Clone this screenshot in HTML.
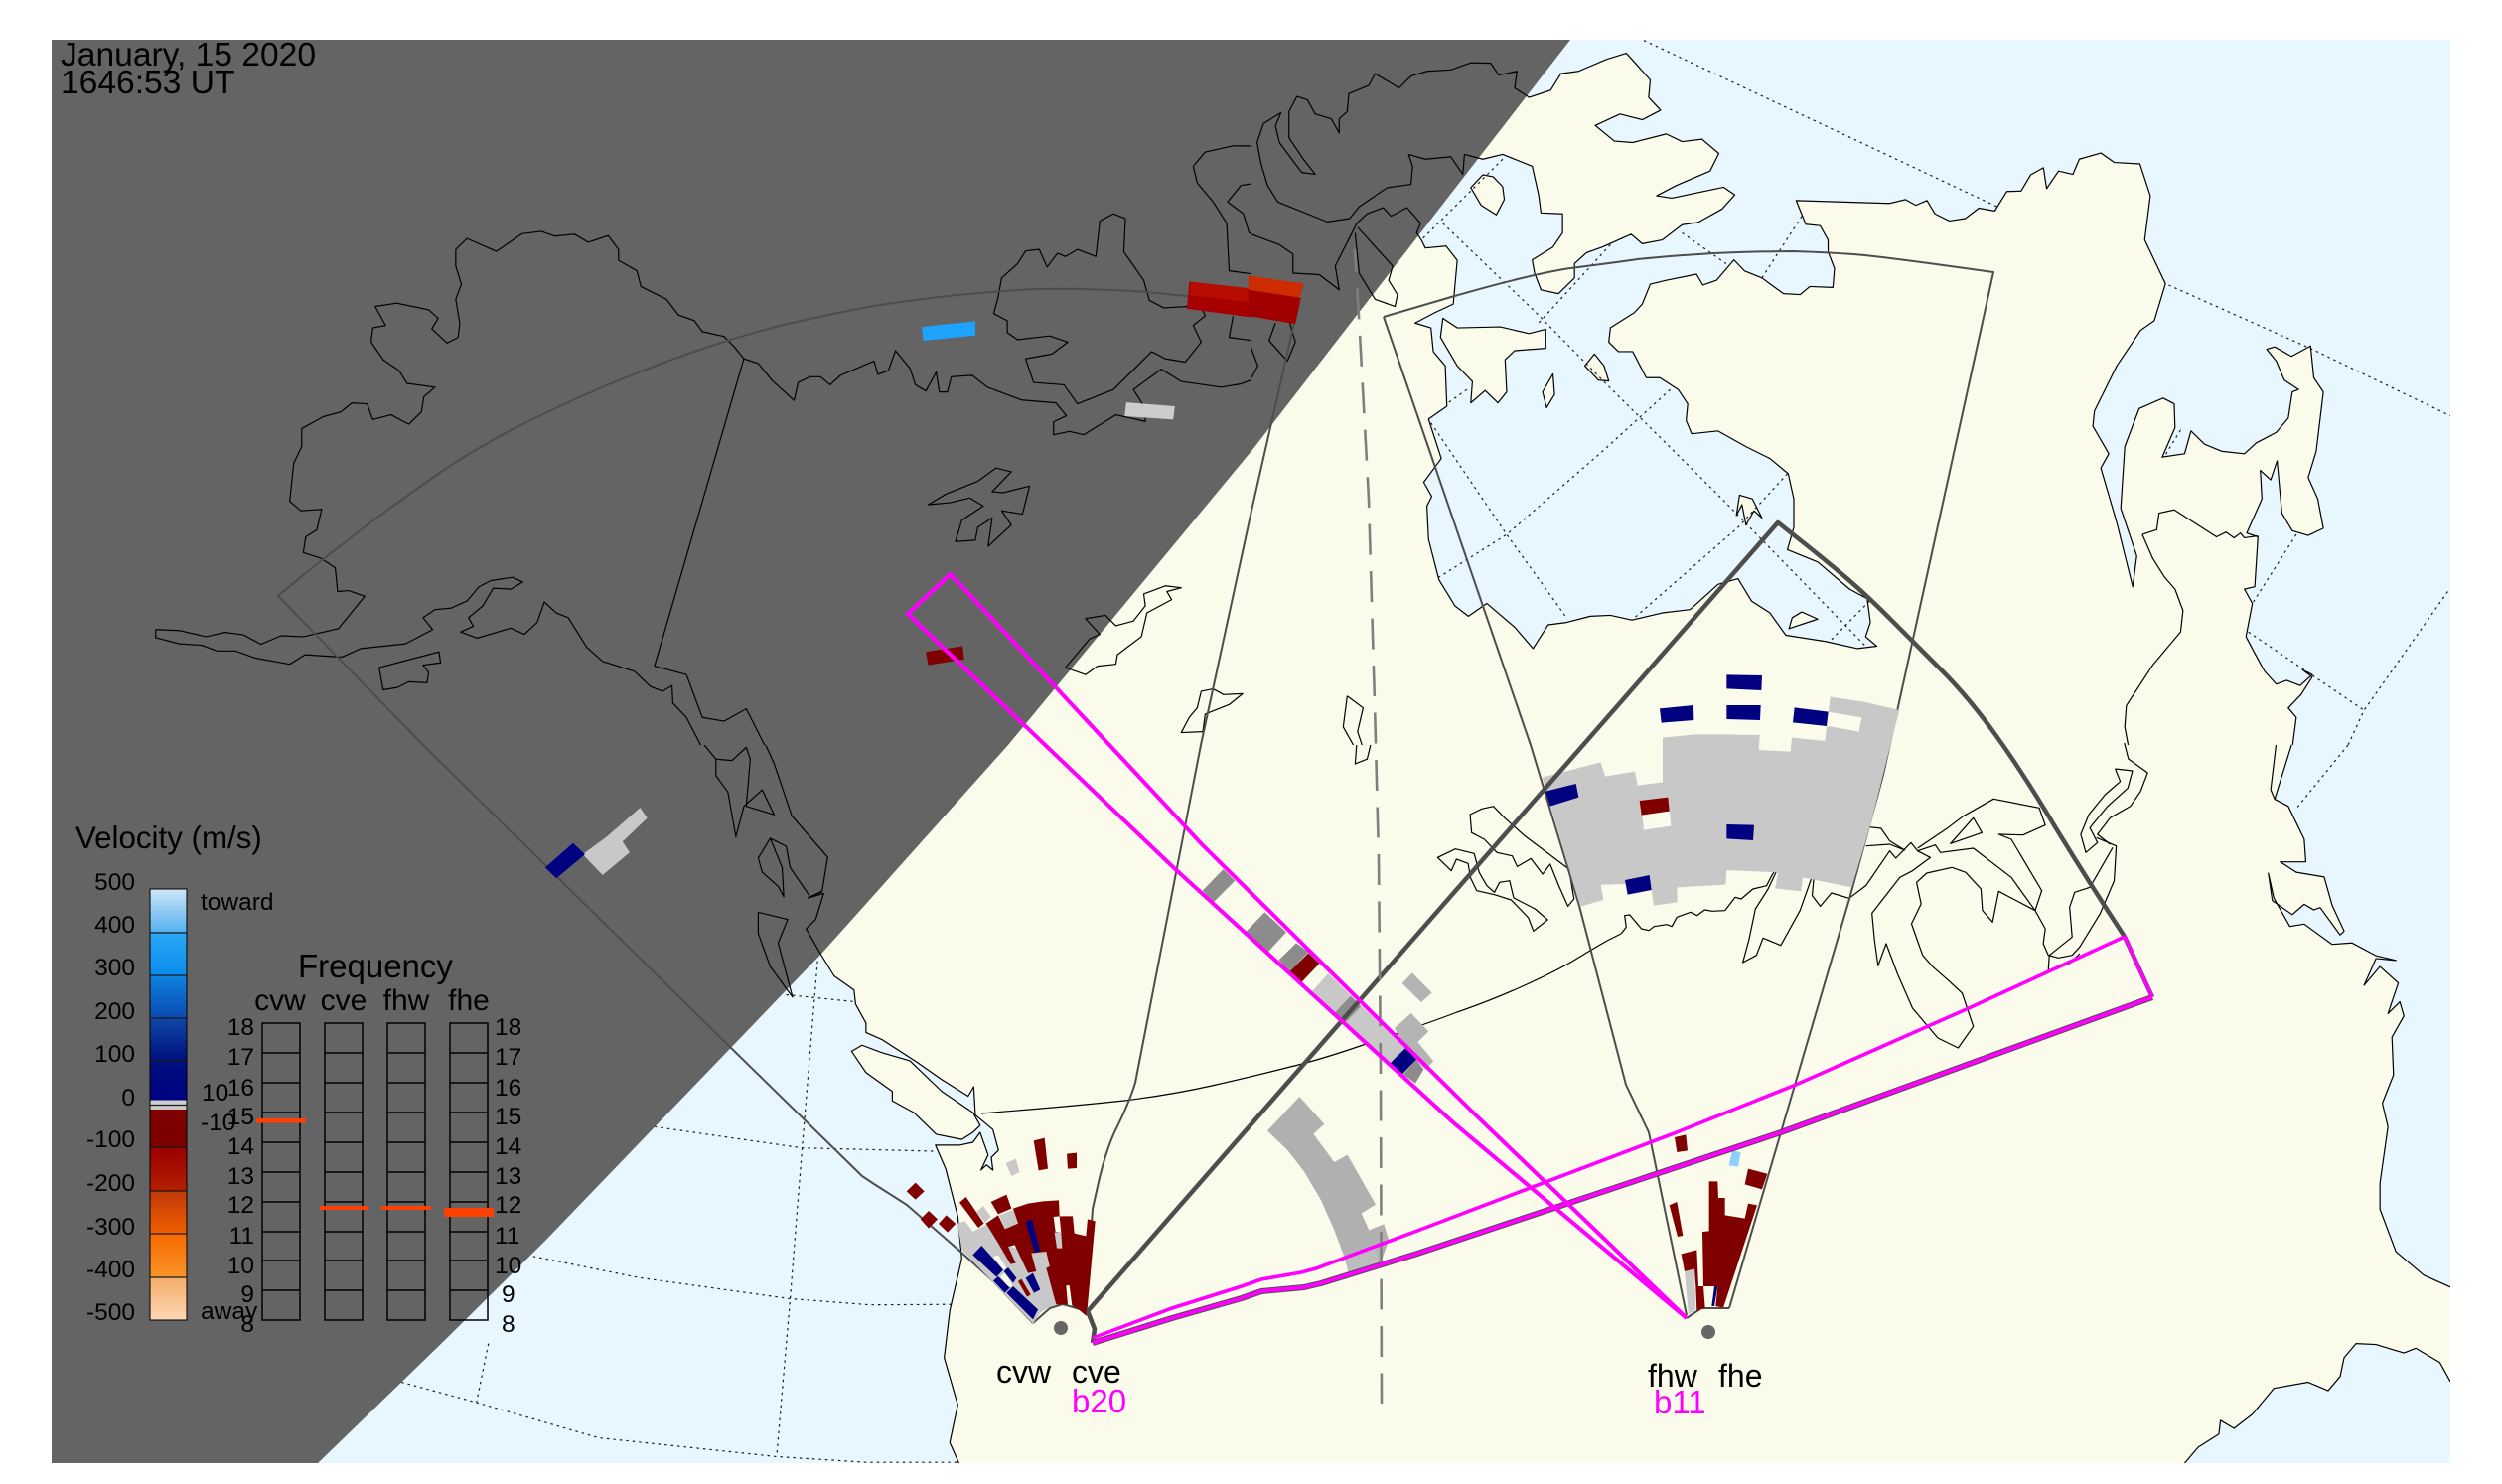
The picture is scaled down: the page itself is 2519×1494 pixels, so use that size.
<!DOCTYPE html>
<html><head><meta charset="utf-8"><title>Velocity map</title>
<style>
html,body{margin:0;padding:0;background:#fff}
svg{display:block}
path{vector-effect:non-scaling-stroke}
text{font-family:"Liberation Sans",sans-serif;fill:#000}
.cst{fill:none;stroke:#000;stroke-width:1.2;stroke-linejoin:round}
.grid path{fill:none;stroke:#1a1a1a;stroke-width:1.2;stroke-dasharray:2.5 4}
.lb{font-size:24.5px}
.fq{font-size:24.5px}
</style></head><body>
<svg xmlns="http://www.w3.org/2000/svg" width="2519" height="1494" viewBox="0 0 2519 1494">
<defs>
<clipPath id="c"><rect x="0" y="0" width="1568" height="1568"/></clipPath>
<linearGradient id="vb" x1="0" y1="895" x2="0" y2="1329" gradientUnits="userSpaceOnUse">
<stop offset="0" stop-color="#cfe6f8"/><stop offset=".097" stop-color="#58b2ee"/>
<stop offset=".102" stop-color="#2aa8f5"/><stop offset=".2" stop-color="#0a8cec"/>
<stop offset=".2" stop-color="#0f84e0"/><stop offset=".299" stop-color="#0a4ab0"/>
<stop offset=".299" stop-color="#1048a8"/><stop offset=".398" stop-color="#00107f"/>
<stop offset=".49" stop-color="#000080"/><stop offset=".49" stop-color="#d0d0d0"/>
<stop offset=".511" stop-color="#c8c8c8"/><stop offset=".511" stop-color="#800000"/>
<stop offset=".601" stop-color="#7a0000"/><stop offset=".601" stop-color="#9a0000"/>
<stop offset=".7" stop-color="#b42000"/><stop offset=".7" stop-color="#c03808"/>
<stop offset=".8" stop-color="#f06000"/><stop offset=".8" stop-color="#f86a00"/>
<stop offset=".898" stop-color="#f89428"/><stop offset=".902" stop-color="#f4ac68"/>
<stop offset="1" stop-color="#fdd8b4"/>
</linearGradient>
<path id="l2a" d="M213,505 L218,522 244,518 258,548 253,640 230,658 205,680 225,690 228,740 243,770 245,855 222,882 238,965 216,1015 226,1045 220,1065 222,1135 235,1220 255,1275 272,1297 295,1270 330,1320 353,1365 372,1315 395,1310 425,1297 450,1295 477,1305 515,1290 550,1283 585,1230 610,1218 627,1265 650,1290 670,1337 720,1350 760,1365 784,1360 770,1340 776,1310 772,1260 750,1240 710,1183 672,1157 680,1110 680,1050 673,997 650,965 620,940 585,907 552,913 545,885 547,850 535,820 512,795 495,795 478,740 460,740 448,720 450,690 480,658 490,640 500,598 520,590 558,577 566,600 583,590 605,547 618,570 640,585 667,618 688,620 700,603 729,605 731,565 723,530 723,505 713,475 695,472 683,422 800,428 820,420 833,432 847,422 857,450 875,465 895,460 912,438 932,444 947,403 965,402 977,368 993,353 997,397 1012,360 1030,367 1038,335 1065,322 1082,342 1114,345 1127,412 1120,505 1146,597 1132,675 1115,695 1085,770 1057,865 1055,897 1075,955 1065,985 1085,1100 1105,1235 1110,1170 1090,1070 1095,940 1113,860 1143,838 1157,850 1158,900 1142,962 1170,955 1178,907 1195,935 1217,950 1245,955 1260,932 1285,910 1300,880 1305,825 1313,820 1295,800 1285,760 1273,735 1283,730 1304,750 1328,728 1332,795 1344,825 1335,950 1325,1005 1337,1050 1344,1112 1325,1127 1305,1117 1292,1080 1286,970 1278,1010 1265,990 1267,1050 1248,1122 1262,1130 1258,1235 1245,1240 1255,1270 1247,1340 1258,1375 1270,1412 1285,1440 1298,1432 1315,1443 1330,1420 1318,1410 1330,1425 1316,1462 1300,1490 1310,1510 1305,1575 -10,1575 -10,300"/>
<path id="l2b" d="M348,205 L375,190 388,155 410,150 445,125 470,112 500,168 498,205 513,232 490,252 462,240 431,264 455,297 478,300 520,282 540,298 565,293 586,323 575,360 533,390 508,412 527,417 592,394 606,410 590,440 560,468 540,473 515,505 490,513 476,493 440,520 420,532 405,555 405,585 385,618 363,610 355,575 352,547 378,520 390,490 390,450 363,448 360,410 352,350 315,325 290,335 267,325 265,367 250,330 218,335 197,325 202,350 200,388 170,395 135,435 123,460 95,467 70,450 33,425 20,390 12,345 7,300 15,260 37,237 30,265 35,300 63,363 80,367 65,335 47,290 47,235 57,203 70,210 80,240 100,250 110,280 110,250 120,235 122,197 147,180 155,155 165,165 185,185 200,160 220,150 250,147 275,132 300,133 310,158 333,150 330,185 348,205Z
M240,670 L258,690 312,688 348,702 369,693 369,733 330,738 318,757 320,825 309,848 293,822 275,848 277,803 258,770 237,710Z
M290,368 L275,395 288,432 307,452 317,420 315,393 303,372Z
M430,745 L418,770 435,800 448,802 442,770Z
M378,787 L365,825 370,858 380,830Z
M612,1042 L608,1085 615,1062 620,1105 630,1075 640,1090 628,1050Z
M690,1288 L678,1300 674,1323 710,1303Z"/>
<path id="l4" d="M1305,-5 L1283,115 1300,130 1320,200 1322,248 1290,248 1310,270 1345,280 1355,340 1370,395 1365,403 1340,345 1332,350 1320,338 1305,360 1280,330 1275,272 1282,325 1302,385 1320,380 1355,423 1380,420 1410,447 1435,457 1410,453 1395,510 1415,470 1438,505 1430,545 1425,570 1440,545 1445,575 1430,620 1432,700 1418,760 1425,810 1415,930 1415,985 1435,1075 1470,1125 1503,1150 1515,1155 1515,1352 1503,1350 1490,1310 1460,1280 1445,1290 1410,1272 1385,1270 1370,1300 1365,1340 1350,1370 1325,1352 1282,1365 1255,1420 1232,1450 1215,1433 1213,1462 1187,1490 1170,1524 1165,1535 -10,1535 -10,-5"/>
<path id="l3" d="M958,-5 L970,40 992,150 1037,238 1030,310 1012,325 1032,315 1022,370 1010,390 1027,440 1045,490 1070,520 1072,550 1085,590 1085,610 1105,625 1148,672 1180,710 1213,745 1220,725 1222,785 1244,816 1251,860 1242,875 1244,902 1236,891 1229,902 1238,870 1228,822 1219,843 1203,849 1172,849 1185,900 1200,1000 1205,1090 1190,1200 1183,1300 1200,1400 1190,1480 1203,1530 1600,1530 1600,-5"/>
<path id="l3b" d="M1067,650 L1080,637 1105,653 1140,670 1180,735 1219,780 1228,807 1219,822 1205,837 1173,826 1145,780 1118,755 1118,735 1085,695Z"/>
</defs>
<rect x="0" y="0" width="2519" height="1494" fill="#fff"/>
<rect x="52" y="40" width="2415" height="1433" fill="#e8f6ff"/>
<!-- land fills -->
<g fill="#fafbeb" stroke="none">
<g transform="scale(.80357,.47832)" clip-path="url(#c)"><rect x="1000" y="900" width="570" height="670"/></g>
<g transform="translate(1260,0) scale(.80293,.47832)" clip-path="url(#c)"><use href="#l2a"/><use href="#l2b"/></g>
<g transform="translate(0,750) scale(.80357,.47449)" clip-path="url(#c)"><use href="#l3"/><use href="#l3b"/></g>
<g transform="translate(1260,750) scale(.80293,.47449)" clip-path="url(#c)"><use href="#l4"/></g>
</g>
<!-- grid -->
<g class="grid">
<g transform="translate(1260,0) scale(.80293,.47832)" clip-path="url(#c)">
<path d="M492,85 L935,435"/><path d="M1150,600 L1330,735 1503,875"/><path d="M1310,1125 L1255,1270"/><path d="M1250,1330 L1395,1495"/><path d="M1500,1245 L1395,1495 1375,1568"/>
<path d="M315,335 L213,505"/><path d="M240,470 L355,655 440,800 590,1050 770,1360"/><path d="M450,515 L360,680"/><path d="M540,490 L595,555"/><path d="M690,455 L640,585"/><path d="M525,820 L440,950 320,1125 235,1215"/><path d="M225,890 L320,1125 395,1300"/><path d="M672,997 L610,1110 477,1305"/><path d="M775,1265 L725,1350"/><path d="M270,820 L245,850"/><path d="M1165,905 L1145,960"/>
</g>
<g transform="translate(1260,750) scale(.80293,.47449)" clip-path="url(#c)"><path d="M1375,0 L1310,135"/></g>
<g transform="translate(0,750) scale(.80357,.47449)" clip-path="url(#c)">
<path d="M985,530 L1072,545"/><path d="M1025,445 L1005,855 990,1175 973,1510"/><path d="M820,810 L1005,855 1170,862"/><path d="M668,1085 L800,1130 990,1175 1090,1188 1195,1187"/><path d="M612,1270 L597,1395"/><path d="M503,1352 L597,1395 750,1470 973,1510 1085,1522 1200,1522"/>
</g>
</g>
<!-- terminator -->
<path d="M52,40 L1581,40 1260,454 1015,750 828,959 550,1248 447,1350 320,1473 52,1473Z" fill="#646464"/>
<!-- coast strokes -->
<g class="cst">
<g transform="scale(.80357,.47832)" clip-path="url(#c)">
<path d="M195,1325 L225,1327 258,1340 282,1331 305,1336 327,1356 352,1338 380,1340 424,1323 440,1290 457,1255 437,1243 423,1245 420,1195 402,1175 380,1163 383,1130 397,1115 403,1072 377,1075 363,1055 368,975 378,940 378,902 405,877 427,867 441,848 460,850 467,883 490,873 512,893 528,867 531,835 545,815 510,807 500,780 480,757 465,720 467,690 483,685 470,645 497,638 537,652 549,670 541,692 560,722 574,710 576,680 571,630 578,598 571,560 571,525 585,502 622,529 654,492 678,487 695,497 720,493 737,510 762,496 775,525 775,548 798,570 803,603 835,630 850,663 870,675 880,698 907,708 920,730 932,755 950,765 967,800 995,843 1000,805 1015,793 1028,793 1040,810 1053,790 1095,760 1100,788 1113,780 1122,738 1140,775 1147,810 1160,823 1173,783 1177,825 1187,825 1192,793 1218,790 1237,815 1280,842 1323,848 1336,875 1320,888 1320,915 1340,908 1358,915 1398,873 1435,887 1435,860 1420,820 1455,777 1480,803 1530,815 1555,808 1575,795"/>
<path d="M195,1325 L195,1342 225,1355 253,1358 272,1370 295,1370 320,1385 363,1398 382,1378 428,1383 452,1365 508,1355 542,1325 530,1300 545,1283 565,1280 585,1265 600,1235 615,1222 642,1215 655,1225 640,1240 618,1238 605,1275 587,1300 593,1318 577,1330 598,1343 640,1322 657,1335 673,1310 682,1267 697,1290 712,1300 735,1362 755,1392 795,1413 815,1445 830,1455 842,1443 843,1480 860,1510 880,1575"/>
<path d="M932,755 L820,1402 860,1420 880,1510 907,1518 935,1492 960,1575"/>
<path d="M1285,755 L1295,805 1333,810 1350,850 1395,820 1443,740 1460,755 1485,762 1505,720 1495,685 1510,665 1505,645 1490,645 1458,648 1440,632 1433,590 1408,530 1410,460 1395,450 1378,465 1373,540 1350,525 1335,540 1325,533 1312,562 1302,525 1285,528 1275,555 1255,585 1250,630 1245,660 1262,675 1262,700 1275,715 1315,707 1338,720 1318,745Z"/>
<path d="M1575,307 L1545,307 1510,320 1495,350 1500,385 1520,425 1537,470 1540,570 1575,578"/>
<path d="M1575,385 L1555,390 1538,425 1558,450 1565,490 1575,492"/>
<path d="M1545,665 L1540,710 1575,718"/>
<path d="M475,1405 L550,1372 552,1395 530,1400 537,1415 535,1437 512,1435 498,1447 480,1452Z"/>
<path d="M1248,985 L1267,993 1243,1035 1257,1037 1290,1023 1281,1082 1255,1075 1267,1105 1238,1150 1243,1090 1225,1110 1222,1137 1197,1140 1205,1095 1232,1065 1215,1048 1190,1058 1163,1062 1185,1040 1225,1013Z"/>
<path d="M1360,1302 L1385,1295 1398,1317 1420,1307 1435,1275 1433,1250 1460,1233 1480,1237 1462,1245 1468,1262 1437,1290 1430,1340 1400,1378 1398,1398 1375,1402 1360,1420 1335,1405 1365,1345 1378,1335Z"/>
<path d="M1480,1542 L1490,1510 1500,1490 1505,1455 1520,1450 1533,1462 1557,1460 1540,1483 1510,1503 1507,1540Z"/>
</g>
<g transform="translate(1260,0) scale(.80293,.47832)" clip-path="url(#c)">
<use href="#l2a"/><use href="#l2b"/>
<path d="M-5,490 L35,515 52,535 52,575 85,578 110,610 105,560 132,470 145,450 165,437 175,455 195,437 212,470 207,490 213,505"/>
<path d="M133,478 L177,560 172,590 183,620 180,645 155,630 135,575 130,490"/>
<path d="M48,680 L55,720 45,760 22,717 30,680"/>
<path d="M-5,712 L8,770 0,795"/>
<path d="M1117,1125 L1135,1115 1138,1080 1157,1073 1210,1130 1222,1120 1232,1132 1240,1122 1245,1132 1262,1128"/>
<path d="M1117,1125 L1130,1175 1145,1215 1158,1240 1168,1285 1165,1330 1130,1400 1097,1485 1095,1530 1100,1575"/>
<path d="M120,1465 L140,1490 133,1540 140,1575"/><path d="M120,1465 L115,1530 130,1575"/>
</g>
<g transform="translate(0,750) scale(.80357,.47449)" clip-path="url(#c)">
<use href="#l3"/><use href="#l3b"/>
<path d="M880,-5 L897,30 897,65 912,100 922,195 932,130 955,95 970,148 935,130 940,30 935,5 917,33 897,30"/>
<path d="M965,198 L985,215 990,260 1015,322 1030,312"/>
<path d="M965,198 L950,240 955,270 975,300 982,322 980,260Z"/>
<path d="M950,355 L987,370 975,420 993,535 965,470 950,400Z"/>
</g>
<g transform="translate(1260,750) scale(.80293,.47449)" clip-path="url(#c)">
<use href="#l4"/>
<path d="M1285,-5 L1278,95 1283,115"/>
<path d="M150,-5 L145,30 130,40 132,-5"/>
</g>
<!-- 49th parallel -->
<path d="M988,1121 L1036,1117 Q1085,1113 1132,1108 Q1180,1102 1220,1093 Q1260,1084 1295,1075 Q1330,1067 1381,1049 Q1433,1032 1467,1019 Q1502,1007 1535,992 Q1568,977 1586,966 Q1604,955 1618,947 L1632,940"/>
<!-- great lakes -->
<g transform="translate(1400,780) scale(.5102,.33333)">
<path d="M455,480 L465,460 462,425 472,423 495,465 510,470 520,458 545,452 555,458 565,430 592,415 605,425 620,408 635,412 660,410 680,370 692,375 715,345 742,335 752,305 762,280"/>
<path d="M352,285 L300,225 265,185 225,130 203,95 180,103 157,120 160,175 185,195 210,235 240,245 250,277 277,253 300,300 315,270 332,335 350,397 362,375 352,285"/>
<path d="M93,250 L128,224 165,238 175,295 190,335 205,355 215,325 235,320 243,372 285,405 310,438 282,472 272,432 238,378 205,362 170,350 158,312 153,268 130,255 120,290Z"/>
<path d="M762,290 L745,345 720,405 707,500 695,567 722,545 735,493 770,515 808,410 830,315"/>
<path d="M835,315 L832,365 848,397 870,357 905,373 938,335 985,230 997,252 1010,232 1027,205 1040,230"/>
<path d="M938,215 L985,210 1015,228"/><path d="M945,158 L968,162 985,200 1015,228"/>
<path d="M1272,410 L1225,310 1150,222 1085,235 1075,212 1040,230 1065,250 1030,290 1005,310 950,418 955,500 962,577 978,510 1000,600 1030,705 1080,795 1120,825 1150,760 1128,660 1100,620 1070,580 1050,545 1028,450 1047,390 1038,325 1058,297 1108,280 1135,295 1165,345 1168,410 1188,445 1200,352 1272,410 1292,465 1288,510 1298,545 1318,553 1345,545 1360,520 1400,420 1428,320 1432,215 1393,190"/>
<path d="M1040,222 L1100,160 1130,125 1190,73 1280,100 1292,152 1248,182 1200,180 1225,195 1285,350 1272,410"/>
<path d="M1105,208 L1150,130 1167,175Z"/>
<path d="M1298,590 L1300,545 1345,490 1340,400 1350,355 1380,340 1425,220"/>
<path d="M1298,590 L1340,570 1360,540"/>
<path d="M1448,-96 L1456,-48 1494,-6 1480,50 1460,95 1420,130 1395,180 1420,210"/>
<path d="M1430,-18 L1464,-12 1455,40 1415,95 1380,160 1395,205 1372,235 1362,180 1378,120 1410,60 1440,20 1430,-18"/>
</g>
</g>
<!-- FOV outlines -->
<g fill="none" stroke="#4d4d4d" stroke-width="2" stroke-linejoin="round">
<path d="M1040,1332 L1000,1290 967,1260 913,1213 880,1192 868,1184 735,1054 426,750 280,600 L304,580 Q329,560 373,526 Q418,493 450,471 Q482,450 522,429 Q562,409 606,390 Q651,371 693,356 Q735,341 785,328 Q836,316 880,308 Q924,301 964,297 Q1004,293 1044,291 Q1085,290 1141,293 Q1197,297 1300,312"/>
<path d="M1303,325 L1260,514 1209,750 1143,1090 Q1137,1110 1122,1140 Q1113,1160 1106,1190 L1100,1217 1093,1323"/>
<path d="M1040,1332 L1057,1317 1070,1313 1087,1318 1093,1323"/>
<path d="M1393,319 L1461,299 Q1541,276 1581,270 Q1621,265 1649,261 Q1677,258 1725,255 Q1774,253 1806,253 Q1838,254 1866,256 Q1894,258 2007,274 L1896,780 1862,905 1793,1140 1741,1317"/>
<path d="M1393,319 L1541,750 1590,912 1637,1092 1660,1140 1698,1324"/>
<path d="M1698,1327 L1713,1317 1733,1317 1741,1317"/>
</g>
<!-- isolated bins -->
<g transform="scale(.80357,.47832)">
<path d="M1490,593 L1568,610 1568,668 1487,650Z" fill="#a60000"/>
<path d="M1492,593 L1568,607 1568,638 1530,628 1490,622Z" fill="#b80c00"/>
<path d="M1155,688 L1222,676 1222,706 1157,717Z" fill="#1ea4ff"/>
<path d="M1411,847 L1472,855 1470,883 1409,876Z" fill="#cccccc"/>
<path d="M1160,1372 L1206,1360 1208,1388 1163,1400Z" fill="#800000"/>
</g>
<g transform="translate(1260,0) scale(.80293,.47832)">
<path d="M-4,580 L66,597 60,627 -4,610Z" fill="#cc2c00"/>
<path d="M-4,610 L62,627 55,682 -4,665Z" fill="#a00000"/>
</g>
<g transform="translate(0,750) scale(.80357,.47449)">
<path d="M802,133 L811,155 780,205 789,228 755,276 730,232 760,195Z" fill="#c8c8c8"/>
<path d="M718,208 L733,232 697,283 683,260Z" fill="#000080"/>
</g>
<!-- lower gray arc -->
<g transform="translate(1250,1080) scale(.33333)">
<path d="M175,72 L250,155 217,185 280,270 320,248 405,398 362,425 385,475 430,457 445,505 418,580 325,610 310,555 280,475 240,385 190,300 140,235 78,175Z" fill="#b0b0b0"/>
<path d="M315,555 L405,527 418,580 325,610Z" fill="#bdbdbd"/>
</g>
<!-- FH far bins -->
<g transform="translate(1530,660) scale(.33333)">
<path d="M68,368 L245,322 258,365 348,350 356,392 432,382 432,248 530,238 625,238 725,240 722,285 818,290 822,248 922,258 938,125 1040,140 1147,165 1130,230 1060,510 1003,700 855,670 850,712 772,703 780,655 625,648 622,692 475,700 476,745 405,755 398,708 320,690 245,692 253,738 183,758Z" fill="#c8c8c8"/>
<path d="M930,170 L1033,187 1025,230 925,212Z M370,478 L453,470 457,515 375,527Z" fill="#fafbeb"/>
<path d="M362,438 L448,428 452,470 368,482Z" fill="#800000"/>
<g fill="#000080">
<path d="M78,410 L170,387 178,428 92,455Z"/><path d="M625,510 L708,512 705,558 625,553Z"/><path d="M318,678 L392,663 398,708 326,722Z"/>
<path d="M625,58 L732,60 730,105 625,100Z"/><path d="M625,150 L728,150 726,195 625,192Z"/><path d="M423,160 L525,150 526,195 428,203Z"/><path d="M830,157 L932,170 927,213 825,202Z"/>
</g>
</g>
<!-- CV isolated -->
<g transform="translate(880,1120) scale(.33333)">
<path d="M482,85 L515,77 525,170 497,175Z M582,125 L612,122 612,168 585,170Z M125,212 L152,238 125,263 98,238Z M165,297 L192,322 165,350 140,322Z M218,310 L247,336 222,362 195,336Z" fill="#800000"/>
<path d="M398,153 L428,140 440,180 415,192Z" fill="#c8c8c8"/>
</g>
<!-- CV wedge -->
<g transform="translate(960,1190) scale(.33333)">
<path d="M12,125 L35,118 58,150 100,128 175,195 235,215 280,210 310,370 285,380 262,395 240,428 25,205Z M70,90 L90,72 113,105 95,122Z M138,100 L182,83 195,125 155,142Z" fill="#c8c8c8"/>
<path d="M18,62 L38,45 92,125 75,138Z M113,60 L160,38 175,80 135,97Z" fill="#800000"/>
<path d="M98,125 L135,100 155,142 195,125 180,80 225,65 270,58 318,55 320,103 360,103 365,155 400,163 405,112 428,118 402,405 385,390 358,373 350,312 340,313 345,370 310,370 280,260 290,255 280,210 235,215 250,270 225,275 185,190 165,195 188,245 172,248 135,185 120,160Z" fill="#800000"/>
<path d="M302,105 L320,103 325,152 308,150Z" fill="#fafbeb"/>
<path d="M305,152 L325,150 328,200 312,200Z" fill="#c8c8c8"/>
<path d="M142,285 L155,275 180,315 165,318Z M120,225 L135,220 160,260 150,265Z" fill="#fafbeb"/>
<g fill="#000080">
<path d="M218,120 L237,113 262,208 245,212Z"/><path d="M58,220 L85,192 150,265 130,287Z"/><path d="M120,298 L135,285 170,320 155,335Z"/><path d="M152,270 L165,258 190,290 180,305Z"/><path d="M160,335 L180,315 255,385 240,415Z"/><path d="M218,290 L240,275 262,325 243,335Z"/>
</g>
<path d="M195,300 L205,293 233,340 222,347Z" fill="#800000"/>
</g>
<!-- FH near wedge -->
<g transform="translate(1620,1120) scale(.33333)">
<path d="M302,208 L328,208 330,258 350,258 350,310 410,320 420,275 447,280 345,590 322,585 328,525 285,525 282,360 302,358Z M262,525 L285,525 290,590 265,600Z M218,427 L265,415 270,525 262,525 258,473 228,480Z M182,280 L205,270 223,372 207,375Z M198,75 L232,67 237,115 205,120Z M420,170 L478,185 462,232 410,217Z" fill="#800000"/>
<path d="M292,525 L318,525 310,585 295,585Z" fill="#fafbeb"/>
<path d="M318,525 L328,525 318,585 310,585Z" fill="#000080"/>
<path d="M228,480 L258,473 262,595 240,610Z" fill="#c8c8c8"/>
<path d="M372,115 L398,120 390,163 362,160Z" fill="#8cd0ff"/>
<path d="M75,465 L110,500 95,510 60,478Z" fill="#c8c8c8"/>
</g>
<!-- beam bins -->
<g transform="translate(1180,850) scale(.33333)">
<path d="M725,388 L785,448 753,477 695,420Z M722,510 L775,565 742,597 790,655 765,680 738,650 705,612 672,555Z" fill="#b4b4b4"/>
<path d="M155,75 L190,110 125,175 92,140Z M280,205 L345,265 290,325 222,265Z M375,298 L412,325 355,385 322,350Z M540,457 L572,490 522,540 490,510Z M738,650 L760,680 735,722 698,695Z" fill="#8c8c8c"/>
<path d="M412,328 L445,360 388,420 353,387Z" fill="#800000"/>
<path d="M472,390 L540,457 490,510 422,445Z M572,488 L705,612 660,665 522,540Z" fill="#c8c8c8"/>
<path d="M705,615 L738,650 695,695 660,660Z" fill="#000080"/>
</g>
<!-- thick lines -->
<g fill="none" stroke="#4d4d4d" stroke-linejoin="round">
<path stroke-width="4.5" d="M1095,1320 L1790,526 L1814,545 Q1838,564 1858,581 Q1878,598 1902,622 Q1926,646 1954,674 Q1983,703 2010,741 Q2038,780 2070,834 Q2103,888 2139,943 L2167,1004"/>
<path stroke-width="4.5" d="M1095,1320 L1102,1338 1100,1352"/>
<path stroke-width="6" d="M1100,1352 L1180,1327 1250,1307 1270,1300 1313,1296 1330,1292 1427,1262 1793,1140 2167,1004"/>
</g>
<path d="M1364,251 L1369,335 1378,502 1384,708 1388,863 1390,1077 1391,1413" fill="none" stroke="#7f7f7f" stroke-width="2.6" stroke-dasharray="31 16.5" stroke-dashoffset="8"/>
<!-- magenta -->
<g fill="none" stroke="#ff00ff" stroke-linejoin="miter">
<path stroke-width="3.6" d="M1100,1347 L1180,1317 1250,1295 1270,1288 1310,1281 1325,1277 1427,1239 1688,1140 1808,1092 1982,1015 2139,943 2167,1004"/>
<path stroke-width="4" d="M1100,1352 L1180,1327 1250,1307 1270,1300 1313,1296 1330,1292 1427,1262 1793,1140 2167,1004"/>
<path stroke-width="4" d="M957,578 L1210,850 1480,1117 1698,1327 1463,1130 1180,872 914,618Z"/>
</g>
<!-- radar dots -->
<circle cx="1068" cy="1337" r="7" fill="#666"/>
<circle cx="1720" cy="1341" r="7" fill="#666"/>
<!-- legend -->
<rect x="151" y="895" width="37" height="434" fill="url(#vb)" stroke="#000" stroke-width="1"/>
<path d="M151,939 H188 M151,982 H188 M151,1025 H188 M151,1068 H188 M151,1112.5 H188 M151,1155 H188 M151,1199 H188 M151,1242 H188 M151,1286 H188" stroke="#1a1a1a" stroke-width="1.3" fill="none"/>
<g class="lb" text-anchor="end">
<text x="136" y="896">500</text><text x="136" y="939">400</text><text x="136" y="982">300</text><text x="136" y="1026">200</text><text x="136" y="1069">100</text><text x="136" y="1113">0</text><text x="136" y="1155">-100</text><text x="136" y="1199">-200</text><text x="136" y="1243">-300</text><text x="136" y="1286">-400</text><text x="136" y="1329">-500</text>
</g>
<text class="lb" x="202" y="916">toward</text>
<text class="lb" x="202" y="1328">away</text>
<text class="lb" x="203" y="1108">10</text>
<text class="lb" x="202" y="1138">-10</text>
<text x="76" y="854" font-size="31.3">Velocity (m/s)</text>
<text x="300" y="984" font-size="33">Frequency</text>
<g font-size="30" text-anchor="middle">
<text x="282" y="1017">cvw</text><text x="346" y="1017">cve</text><text x="409" y="1017">fhw</text><text x="472" y="1017">fhe</text>
</g>
<g fill="none" stroke="#000" stroke-width="1.5">
<rect x="264" y="1030" width="38" height="299"/><rect x="327" y="1030" width="38" height="299"/><rect x="390" y="1030" width="38" height="299"/><rect x="453" y="1030" width="38" height="299"/>
<path d="M264,1060 H302 M327,1060 H365 M390,1060 H428 M453,1060 H491 M264,1090 H302 M327,1090 H365 M390,1090 H428 M453,1090 H491 M264,1120 H302 M327,1120 H365 M390,1120 H428 M453,1120 H491 M264,1150 H302 M327,1150 H365 M390,1150 H428 M453,1150 H491 M264,1180 H302 M327,1180 H365 M390,1180 H428 M453,1180 H491 M264,1210 H302 M327,1210 H365 M390,1210 H428 M453,1210 H491 M264,1240 H302 M327,1240 H365 M390,1240 H428 M453,1240 H491 M264,1269 H302 M327,1269 H365 M390,1269 H428 M453,1269 H491 M264,1299 H302 M327,1299 H365 M390,1299 H428 M453,1299 H491"/>
</g>
<g fill="#ff4000">
<rect x="258" y="1126" width="50" height="4.5"/><rect x="322" y="1214" width="49" height="4"/><rect x="384" y="1214" width="50" height="4"/><rect x="447" y="1216" width="50" height="9"/>
</g>
<g class="fq" text-anchor="end">
<text x="256" y="1042">18</text><text x="256" y="1072">17</text><text x="256" y="1103">16</text><text x="256" y="1132">15</text><text x="256" y="1162">14</text><text x="256" y="1192">13</text><text x="256" y="1221">12</text><text x="256" y="1252">11</text><text x="256" y="1282">10</text><text x="256" y="1311">9</text><text x="256" y="1341">8</text>
</g>
<g class="fq">
<text x="498" y="1042">18</text><text x="498" y="1072">17</text><text x="498" y="1103">16</text><text x="498" y="1132">15</text><text x="498" y="1162">14</text><text x="498" y="1192">13</text><text x="498" y="1221">12</text><text x="498" y="1252">11</text><text x="498" y="1282">10</text><text x="505" y="1311">9</text><text x="505" y="1341">8</text>
</g>
<!-- labels -->
<text x="61" y="66" font-size="33.6">January, 15 2020</text>
<text x="61" y="94" font-size="33.6">1646:53 UT</text>
<g font-size="32">
<text x="1003" y="1392">cvw</text><text x="1079" y="1392">cve</text>
<text x="1659" y="1396">fhw</text><text x="1730" y="1396">fhe</text>
<text x="1079" y="1422" font-size="33" style="fill:#ff00ff">b20</text>
<text x="1665" y="1423" font-size="33" style="fill:#ff00ff">b11</text>
</g>
<!-- frame -->
<g fill="#fff">
<rect x="0" y="0" width="2519" height="40"/><rect x="0" y="0" width="52" height="1494"/><rect x="2467" y="0" width="52" height="1494"/><rect x="0" y="1473" width="2519" height="21"/>
</g>
</svg>
</body></html>
